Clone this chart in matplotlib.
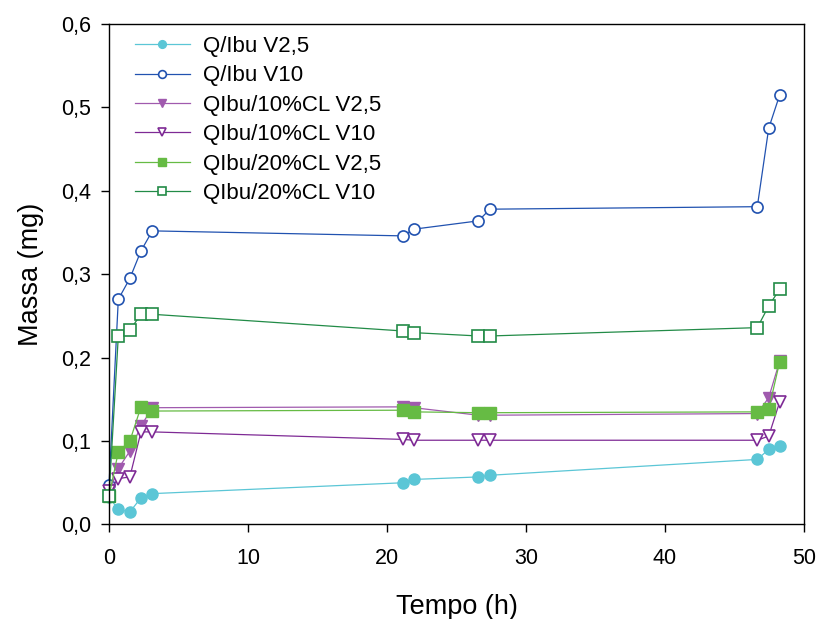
import matplotlib
matplotlib.use("Agg")
import matplotlib.pyplot as plt
from matplotlib.ticker import FuncFormatter

plt.rcParams['font.family'] = ['Liberation Sans', 'DejaVu Sans']

tempo = [0, 0.67, 1.5, 2.3, 3.12, 21.13, 21.92, 26.57, 27.41, 46.64, 47.46, 48.25]

q_ibu_v25 = [0.033, 0.018, 0.015, 0.032, 0.037, 0.050, 0.054, 0.057, 0.059, 0.078, 0.090, 0.094]
q_ibu_v10 = [0.047, 0.270, 0.295, 0.328, 0.352, 0.346, 0.354, 0.364, 0.378, 0.381, 0.475, 0.515]
cl10_v25 = [0.040, 0.067, 0.088, 0.118, 0.140, 0.141, 0.140, 0.131, 0.131, 0.133, 0.152, 0.196]
cl10_v10 = [0.040, 0.055, 0.057, 0.111, 0.111, 0.102, 0.101, 0.101, 0.101, 0.101, 0.106, 0.147]
cl20_v25 = [0.034, 0.087, 0.100, 0.141, 0.136, 0.137, 0.135, 0.134, 0.134, 0.135, 0.138, 0.195]
cl20_v10 = [0.034, 0.226, 0.233, 0.252, 0.252, 0.232, 0.230, 0.226, 0.226, 0.236, 0.262, 0.282]

labels = ["Q/Ibu V2,5", "Q/Ibu V10", "QIbu/10%CL V2,5", "QIbu/10%CL V10",
          "QIbu/20%CL V2,5", "QIbu/20%CL V10"]

fig = plt.figure(figsize=(8.19, 6.19), dpi=100)
ax = fig.add_axes([0.1331, 0.1527, 0.8486, 0.8085])

ms = 8
lw = 0.9
ax.plot(tempo, q_ibu_v25, color='#5BC6D6', lw=lw, marker='o', ms=ms,
        mfc='#5BC6D6', mec='#5BC6D6', label=labels[0])
ax.plot(tempo, q_ibu_v10, color='#2152B0', lw=lw, marker='o', ms=ms,
        mfc='white', mec='#2152B0', mew=1.2, label=labels[1])
ax.plot(tempo, cl10_v25, color='#A05AAE', lw=lw, marker='v', ms=ms + 1,
        mfc='#A05AAE', mec='#A05AAE', label=labels[2])
ax.plot(tempo, cl10_v10, color='#7E2A95', lw=lw, marker='v', ms=ms + 1,
        mfc='white', mec='#7E2A95', mew=1.2, label=labels[3])
ax.plot(tempo, cl20_v25, color='#66BB44', lw=lw, marker='s', ms=ms,
        mfc='#66BB44', mec='#66BB44', label=labels[4])
ax.plot(tempo, cl20_v10, color='#228B47', lw=lw, marker='s', ms=ms,
        mfc='white', mec='#228B47', mew=1.2, label=labels[5])

ax.set_xlim(0, 50)
ax.set_ylim(0, 0.6)
ax.set_xticks([0, 10, 20, 30, 40, 50])
ax.set_yticks([0, 0.1, 0.2, 0.3, 0.4, 0.5, 0.6])
ax.yaxis.set_major_formatter(FuncFormatter(lambda v, p: f"{v:.1f}".replace('.', ',')))
ax.tick_params(direction='out', length=6, width=1, labelsize=15.5)
ax.tick_params(axis='x', pad=11)
ax.tick_params(axis='y', pad=7)
for s in ax.spines.values():
    s.set_linewidth(1)
for line in ax.lines:
    line.set_clip_on(False)

ax.set_xlabel("Tempo (h)", fontsize=19.5, labelpad=18)
ax.set_ylabel("Massa (mg)", fontsize=19.5, labelpad=12)

ax.legend(loc='upper left', bbox_to_anchor=(0.025, 0.994), borderaxespad=0,
          frameon=False, fontsize=16, markerscale=0.7, handlelength=2.45,
          labelspacing=0.38, handletextpad=0.58)

fig.savefig("out.png", dpi=100)
